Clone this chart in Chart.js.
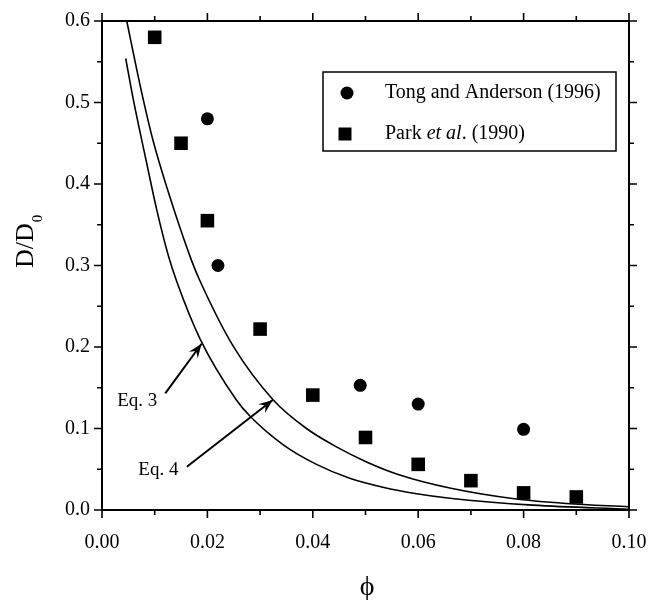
<!DOCTYPE html>
<html><head><meta charset="utf-8">
<script src="https://cdn.jsdelivr.net/npm/chart.js@4.4.1/dist/chart.umd.min.js"></script>
<style>html,body{margin:0;padding:0;background:#fff}</style>
</head><body>
<canvas id="c" width="650" height="600"></canvas>
<script>
// ---- data ----
const xTickLabels = ['0.00','0.02','0.04','0.06','0.08','0.10'];
const yTickLabels = ['0.0','0.1','0.2','0.3','0.4','0.5','0.6'];
const seriesNames = ['Tong and Anderson (1996)', 'Park et al. (1990)'];
const curveNames = ['Eq. 3', 'Eq. 4'];

const tongPhi = [0.020, 0.022, 0.049, 0.060, 0.080];
const tongD   = [0.480, 0.300, 0.153, 0.130, 0.099];

const parkPhi = [0.010, 0.015, 0.020, 0.030, 0.040, 0.050, 0.060, 0.070, 0.080, 0.090];
const parkD   = [0.580, 0.450, 0.355, 0.222, 0.141, 0.089, 0.056, 0.036, 0.021, 0.016];

const eq3Phi = [0.0047, 0.0072, 0.0097, 0.0123, 0.0170, 0.0186, 0.0249, 0.0325, 0.0388, 0.0445, 0.0502, 0.0565, 0.0660, 0.0786, 0.0881, 0.1000];
const eq3D   = [0.600, 0.522, 0.453, 0.396, 0.306, 0.281, 0.201, 0.135, 0.100, 0.0775, 0.059, 0.043, 0.027, 0.0135, 0.008, 0.004];

const eq4Phi = [0.0045, 0.0059, 0.0085, 0.0104, 0.0126, 0.0142, 0.0186, 0.0255, 0.0281, 0.0344, 0.0407, 0.0470, 0.0533, 0.0597, 0.0660, 0.0818, 0.1000];
const eq4D   = [0.554, 0.505, 0.425, 0.368, 0.312, 0.280, 0.210, 0.135, 0.115, 0.080, 0.056, 0.039, 0.028, 0.020, 0.0145, 0.006, 0.001];

// ---- annotation placement (data units) ----
const eq3Note = {tx: 0.0067, ty: 0.134, fx: 0.0120, fy: 0.143, ax: 0.0189, ay: 0.204};
const eq4Note = {tx: 0.0107, ty: 0.049, fx: 0.0161, fy: 0.053, ax: 0.0324, ay: 0.135};

const SERIF = "'Liberation Serif','Times New Roman',serif";
const pts = (xs, ys) => xs.map((x, i) => ({x, y: ys[i]}));

function arrow(ctx, x1, y1, x2, y2) {
  ctx.beginPath(); ctx.moveTo(x1, y1); ctx.lineTo(x2, y2); ctx.stroke();
  const a = Math.atan2(y2 - y1, x2 - x1), L = 14, W = 5.5;
  const bx = x2 - L * Math.cos(a), by = y2 - L * Math.sin(a);
  const mx = x2 - L * 0.65 * Math.cos(a), my = y2 - L * 0.65 * Math.sin(a);
  ctx.beginPath();
  ctx.moveTo(x2, y2);
  ctx.lineTo(bx - W * Math.sin(a), by + W * Math.cos(a));
  ctx.lineTo(mx, my);
  ctx.lineTo(bx + W * Math.sin(a), by - W * Math.cos(a));
  ctx.closePath(); ctx.fill();
}

const decor = {
  id: 'decor',
  afterDraw(chart) {
    const ctx = chart.ctx, ca = chart.chartArea, xs = chart.scales.x, ys = chart.scales.y;
    ctx.save();
    ctx.strokeStyle = '#000'; ctx.fillStyle = '#000';
    // frame
    ctx.lineWidth = 2;
    ctx.strokeRect(ca.left, ca.top, ca.right - ca.left, ca.bottom - ca.top);
    // ticks (outward, all four sides)
    ctx.lineWidth = 1.6;
    for (let i = 0; i <= 10; i++) {
      const px = xs.getPixelForValue(i * 0.01), len = i % 2 === 0 ? 8 : 5;
      ctx.beginPath();
      ctx.moveTo(px, ca.bottom); ctx.lineTo(px, ca.bottom + len);
      ctx.moveTo(px, ca.top); ctx.lineTo(px, ca.top - len);
      ctx.stroke();
    }
    for (let j = 0; j <= 12; j++) {
      const py = ys.getPixelForValue(j * 0.05), len = j % 2 === 0 ? 8 : 5;
      ctx.beginPath();
      ctx.moveTo(ca.left, py); ctx.lineTo(ca.left - len, py);
      ctx.moveTo(ca.right, py); ctx.lineTo(ca.right + len, py);
      ctx.stroke();
    }
    // axis titles
    ctx.textBaseline = 'alphabetic'; ctx.textAlign = 'left';
    ctx.save();
    ctx.translate(33, 268); ctx.rotate(-Math.PI / 2);
    ctx.font = '26px ' + SERIF;
    ctx.fillText('D/D', 0, 0);
    const w = ctx.measureText('D/D').width;
    ctx.font = '15px ' + SERIF;
    ctx.fillText('0', w + 1, 9);
    ctx.restore();
    ctx.font = '28px ' + SERIF; ctx.textAlign = 'center'; ctx.textBaseline = 'middle';
    ctx.fillText('\u03D5', 367, 588);

    // annotations
    ctx.font = '19px ' + SERIF; ctx.textAlign = 'center'; ctx.textBaseline = 'middle';
    ctx.lineWidth = 2;
    [[eq3Note, curveNames[0]], [eq4Note, curveNames[1]]].forEach(([n, t]) => {
      ctx.fillText(t, xs.getPixelForValue(n.tx), ys.getPixelForValue(n.ty));
      arrow(ctx, xs.getPixelForValue(n.fx), ys.getPixelForValue(n.fy),
                 xs.getPixelForValue(n.ax), ys.getPixelForValue(n.ay));
    });

    // legend
    ctx.lineWidth = 1.5;
    ctx.strokeRect(323, 72, 293, 79);
    ctx.beginPath(); ctx.arc(347, 93, 6.5, 0, Math.PI * 2); ctx.fill();
    ctx.fillRect(338.5, 127.5, 13, 13);
    ctx.textAlign = 'left'; ctx.textBaseline = 'middle';
    ctx.font = '20px ' + SERIF;
    ctx.fillText(seriesNames[0], 385, 93);
    let x = 385;
    const parts = [['Park ', false], ['et al', true], ['. (1990)', false]];
    parts.forEach(([s, it]) => {
      ctx.font = (it ? 'italic ' : '') + '20px ' + SERIF;
      ctx.fillText(s, x, 134);
      x += ctx.measureText(s).width;
    });
    ctx.restore();
  }
};

new Chart(document.getElementById('c'), {
  type: 'scatter',
  data: {
    datasets: [
      {label: curveNames[0], data: pts(eq3Phi, eq3D), showLine: true, pointRadius: 0,
       borderColor: '#000', borderWidth: 1.6, cubicInterpolationMode: 'monotone', fill: false},
      {label: curveNames[1], data: pts(eq4Phi, eq4D), showLine: true, pointRadius: 0,
       borderColor: '#000', borderWidth: 1.6, cubicInterpolationMode: 'monotone', fill: false},
      {label: seriesNames[0], data: pts(tongPhi, tongD), pointStyle: 'circle', pointRadius: 6.5,
       backgroundColor: '#000', borderColor: '#000', borderWidth: 0},
      {label: seriesNames[1], data: pts(parkPhi, parkD), pointStyle: 'rect', pointRadius: 9.6,
       backgroundColor: '#000', borderColor: '#000', borderWidth: 0}
    ]
  },
  options: {
    responsive: false, animation: false, devicePixelRatio: 1,
    layout: {padding: {left: 0, right: 21, top: 21, bottom: 0}},
    plugins: {legend: {display: false}, tooltip: {enabled: false}},
    scales: {
      x: {type: 'linear', min: 0, max: 0.1,
          grid: {display: false, drawTicks: false}, border: {display: false},
          ticks: {stepSize: 0.02, padding: 21, color: '#000', font: {family: SERIF, size: 20},
                  maxRotation: 0, callback: (v, i) => xTickLabels[Math.round(v / 0.02)] ?? ''},
          afterFit: s => { s.height = 90; s.paddingLeft = 0; s.paddingRight = 0; }},
      y: {type: 'linear', min: 0, max: 0.6,
          grid: {display: false, drawTicks: false}, border: {display: false},
          ticks: {stepSize: 0.1, padding: 12, color: '#000', font: {family: SERIF, size: 20},
                  callback: (v, i) => yTickLabels[Math.round(v / 0.1)] ?? ''},
          afterFit: s => { s.width = 102; s.paddingTop = 0; s.paddingBottom = 0; }}
    }
  },
  plugins: [decor]
});
</script>
</body></html>
